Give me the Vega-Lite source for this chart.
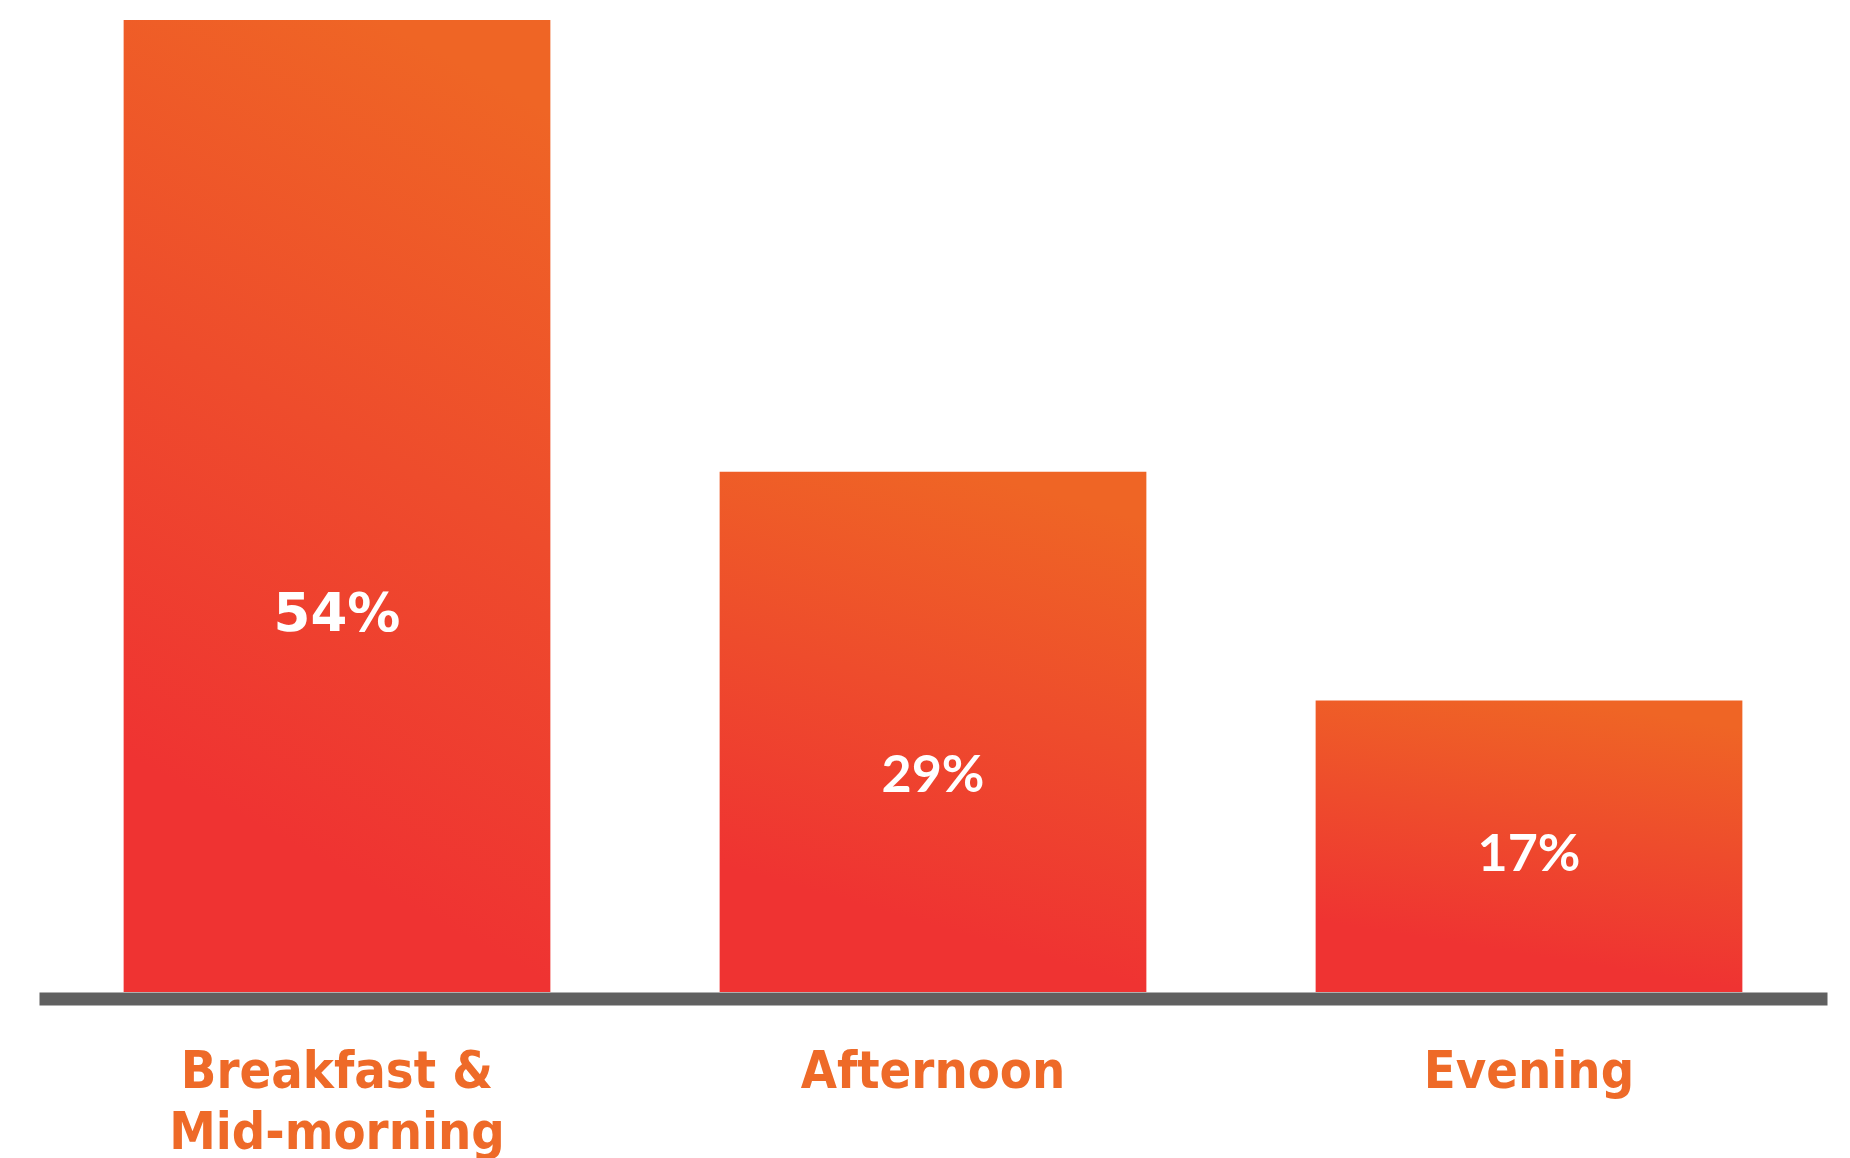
{
  "$schema": "https://vega.github.io/schema/vega-lite/v6.json",
  "width": 1788,
  "height": 972,
  "autosize": {"type": "none"},
  "padding": {"left": 39, "top": 20, "right": 23, "bottom": 166},
  "background": "white",
  "config": {"view": {"stroke": null}},
  "data": {
    "values": [
      {"period": "Breakfast & Mid-morning", "value": 54, "label": "54%", "style": "bold"},
      {"period": "Afternoon", "value": 28.9, "label": "29%", "style": "regular"},
      {"period": "Evening", "value": 16.2, "label": "17%", "style": "regular"}
    ]
  },
  "encoding": {
    "x": {
      "field": "period",
      "type": "nominal",
      "sort": null,
      "scale": {"paddingInner": 0.284, "paddingOuter": 0.142},
      "axis": {
        "title": null,
        "domainColor": "#606060",
        "domainWidth": 13,
        "domainCap": "butt",
        "offset": 6.5,
        "ticks": false,
        "tickSize": 0,
        "labelAngle": 0,
        "labelFont": "DejaVu Sans Condensed, DejaVu Sans",
        "labelFontWeight": "bold",
        "labelFontSize": 52,
        "labelColor": "#EE6A28",
        "labelBaseline": "alphabetic",
        "labelPadding": 88.5,
        "labelLineHeight": 61,
        "labelLimit": 0,
        "labelOverlap": false,
        "labelFlush": false,
        "labelExpr": "datum.label == 'Breakfast & Mid-morning' ? ['Breakfast &', 'Mid-morning'] : datum.label"
      }
    }
  },
  "layer": [
    {
      "mark": {
        "type": "bar",
        "fill": {
          "gradient": "linear",
          "x1": 0.6, "y1": 0, "x2": 0.4, "y2": 0.85,
          "stops": [
            {"offset": 0, "color": "#EF6525"},
            {"offset": 0.5, "color": "#EE4C2C"},
            {"offset": 1, "color": "#EF3332"}
          ]
        }
      },
      "encoding": {
        "y": {
          "field": "value",
          "type": "quantitative",
          "scale": {"domain": [0, 54], "nice": false},
          "axis": null
        }
      }
    },
    {
      "transform": [
        {"filter": "datum.style == 'bold'"},
        {"calculate": "datum.value * 0.3456", "as": "labelPos"}
      ],
      "mark": {
        "type": "text",
        "font": "DejaVu Sans",
        "fontWeight": "bold",
        "fontSize": 53,
        "color": "white",
        "baseline": "middle",
        "align": "center",
        "dy": -41
      },
      "encoding": {
        "y": {"field": "labelPos", "type": "quantitative", "scale": {"domain": [0, 54], "nice": false}},
        "text": {"field": "label"}
      }
    },
    {
      "transform": [
        {"filter": "datum.style == 'regular'"},
        {"calculate": "datum.value * 0.3456", "as": "labelPos"}
      ],
      "mark": {
        "type": "text",
        "font": "Lato",
        "fontWeight": 700,
        "fontSize": 52,
        "color": "white",
        "baseline": "middle",
        "align": "center",
        "dy": -36
      },
      "encoding": {
        "y": {"field": "labelPos", "type": "quantitative", "scale": {"domain": [0, 54], "nice": false}},
        "text": {"field": "label"}
      }
    }
  ]
}
